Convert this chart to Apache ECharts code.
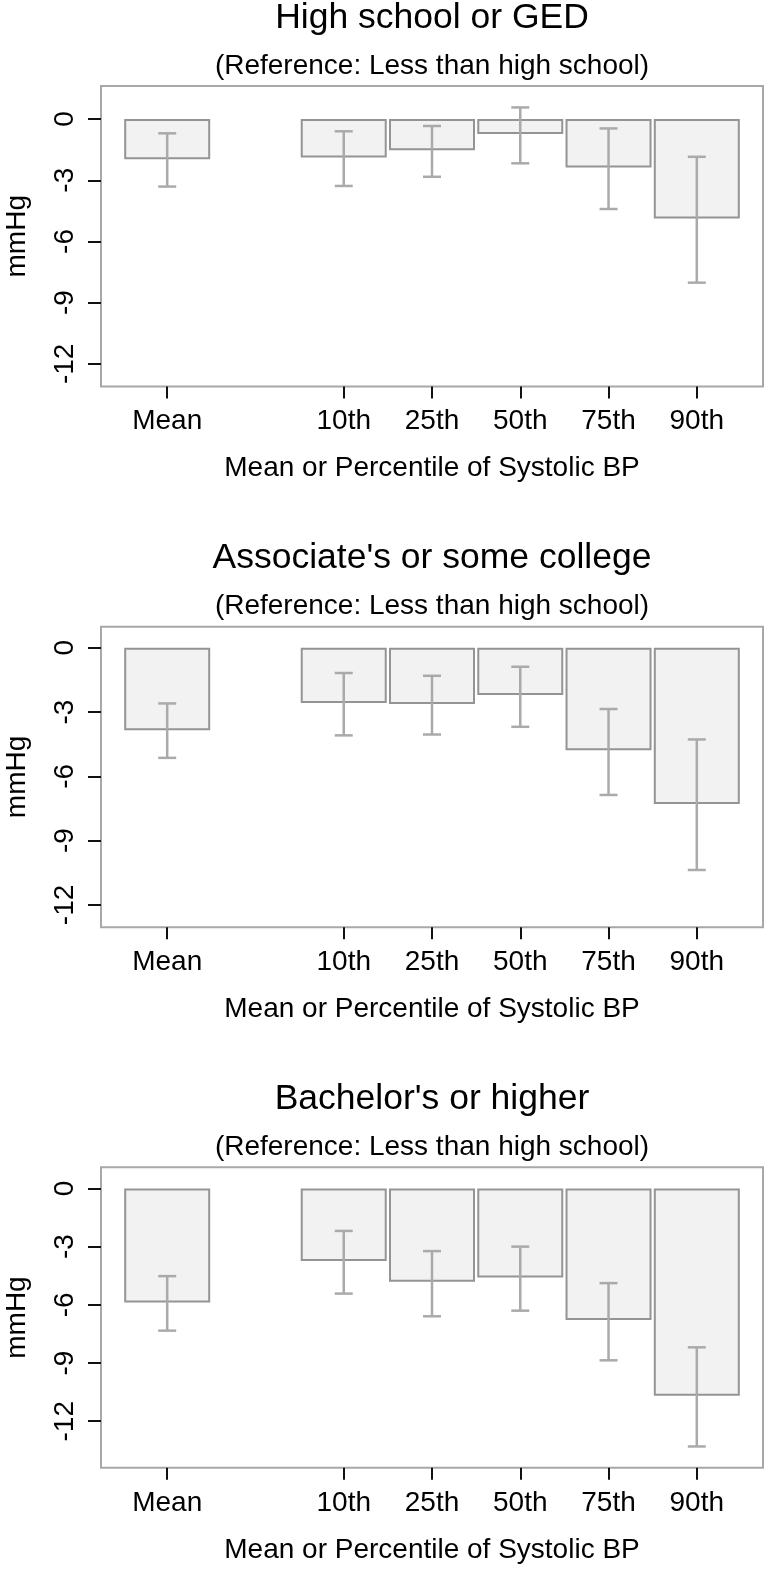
<!DOCTYPE html>
<html><head><meta charset="utf-8">
<script src="https://cdn.jsdelivr.net/npm/echarts@6/dist/echarts.min.js"></script>
<style>html,body{margin:0;padding:0;background:#fff}#c{width:768px;height:1570px}</style>
</head><body><div id="c"></div>
<script>
// ---- data ----
const categories = ['Mean', '10th', '25th', '50th', '75th', '90th'];
const yTicks = [0, -3, -6, -9, -12];
const panelTitles = ["High school or GED", "Associate's or some college", "Bachelor's or higher"];
const subTitle = "(Reference: Less than high school)";
const xName = "Mean or Percentile of Systolic BP";
const yName = "mmHg";

const est1 = [-1.97, -1.88, -1.53, -0.73, -2.38, -4.88];
const lo1  = [-3.31, -3.28, -2.83, -2.17, -4.41, -8.02];
const hi1  = [-0.70, -0.60, -0.34,  0.57, -0.46, -1.85];

const est2 = [-3.85, -2.58, -2.63, -2.21, -4.78, -7.29];
const lo2  = [-5.14, -4.09, -4.05, -3.69, -6.87, -10.37];
const hi2  = [-2.60, -1.18, -1.31, -0.89, -2.86, -4.28];

const est3 = [-5.88, -3.74, -4.81, -4.59, -6.78, -10.69];
const lo3  = [-7.33, -5.42, -6.59, -6.30, -8.86, -13.30];
const hi3  = [-4.52, -2.19, -3.23, -3.00, -4.88, -8.19];

const yMin = [-13.11, -13.04, -14.40];
const yMax = [1.62, 0.98, 1.09];

// ---- layout ----
const panels = [
  {est: est1, lo: lo1, hi: hi1},
  {est: est2, lo: lo2, hi: hi2},
  {est: est3, lo: lo3, hi: hi3}
];
const gridTops = [86, 626.7, 1167.3];
const gridH = 300.5;
const gridLeft = 101, gridRight = 5;
const slot = i => (i === 0 ? 0 : i + 1); // gap after "Mean"
const xPositions = categories.map((c, i) => slot(i));
const FONT = '"Liberation Sans", Arial, Helvetica, sans-serif';

const grids = [], xAxes = [], yAxes = [], series = [], graphics = [];
const centerX = gridLeft + (768 - gridLeft - gridRight) / 2;

panels.forEach((p, k) => {
  grids.push({left: gridLeft, right: gridRight, top: gridTops[k], height: gridH,
    show: true, borderColor: '#a8a8a8', borderWidth: 2, backgroundColor: 'transparent',
    containLabel: false, outerBoundsMode: 'none'});
  xAxes.push({type: 'value', gridIndex: k, min: -0.75, max: 6.75, position: 'bottom',
    axisLine: {show: false, onZero: false}, splitLine: {show: false},
    axisTick: {show: true, customValues: xPositions, length: 12, lineStyle: {color: '#111', width: 2}},
    axisLabel: {show: true, customValues: xPositions, margin: 21, color: '#000', fontSize: 28, fontFamily: FONT,
      formatter: v => categories[xPositions.indexOf(Math.round(v))] || ''},
    name: xName, nameLocation: 'middle', nameGap: 68,
    nameTextStyle: {color: '#000', fontSize: 28, fontFamily: FONT}
  });
  yAxes.push({type: 'value', gridIndex: k, min: yMin[k], max: yMax[k], position: 'left',
    axisLine: {show: false, onZero: false}, splitLine: {show: false},
    axisTick: {show: true, customValues: yTicks, length: 13, lineStyle: {color: '#111', width: 2}},
    axisLabel: {show: true, customValues: yTicks, rotate: 90, margin: 22, color: '#000', fontSize: 28, fontFamily: FONT,
      formatter: v => String(Math.round(v))},
    name: yName, nameLocation: 'middle', nameRotate: 90, nameGap: 70,
    nameTextStyle: {color: '#000', fontSize: 28, fontFamily: FONT}
  });
  series.push({type: 'bar', xAxisIndex: k, yAxisIndex: k, barWidth: 86,
    data: p.est.map((v, i) => [xPositions[i], v]),
    itemStyle: {color: '#f2f2f2', borderColor: '#949494', borderWidth: 2},
    emphasis: {disabled: true}, animation: false, z: 2});
  series.push({type: 'custom', xAxisIndex: k, yAxisIndex: k,
    data: p.est.map((v, i) => [xPositions[i], p.lo[i], p.hi[i]]),
    renderItem: (params, api) => {
      const x = api.value(0);
      const a = api.coord([x, api.value(1)]);
      const b = api.coord([x, api.value(2)]);
      const hw = 9;
      const st = {stroke: '#aaaaaa', lineWidth: 2.5};
      return {type: 'group', children: [
        {type: 'line', shape: {x1: a[0], y1: a[1], x2: b[0], y2: b[1]}, style: st},
        {type: 'line', shape: {x1: a[0] - hw, y1: a[1], x2: a[0] + hw, y2: a[1]}, style: st},
        {type: 'line', shape: {x1: b[0] - hw, y1: b[1], x2: b[0] + hw, y2: b[1]}, style: st}
      ]};
    },
    animation: false, z: 3});
  graphics.push({type: 'text', x: centerX, y: gridTops[k] - 68,
    style: {text: panelTitles[k], fill: '#000', font: '35.5px ' + FONT, textAlign: 'center', textVerticalAlign: 'middle'}});
  graphics.push({type: 'text', x: centerX, y: gridTops[k] - 20,
    style: {text: subTitle, fill: '#000', font: '28px ' + FONT, textAlign: 'center', textVerticalAlign: 'middle'}});
});

const chart = echarts.init(document.getElementById('c'), null, {renderer: 'canvas'});
chart.setOption({animation: false, grid: grids, xAxis: xAxes, yAxis: yAxes, series: series, graphic: graphics});
</script>
</body></html>
